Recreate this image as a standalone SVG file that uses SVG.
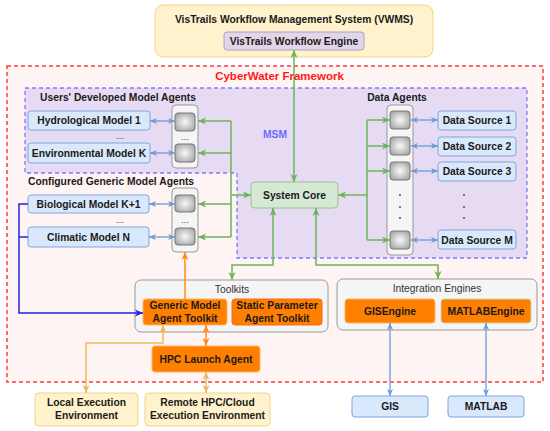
<svg xmlns="http://www.w3.org/2000/svg" width="550" height="431" viewBox="0 0 550 431">
<style>
text{font-family:"Liberation Sans",Arial,sans-serif;font-size:10.3px;font-weight:bold;fill:#1a1a1a}
.c{text-anchor:middle}
.n{font-weight:normal;fill:#333}
.blue{fill:#dae8fc;stroke:#7ea6e0;stroke-width:1}
.ora{fill:#ff8000;stroke:#ffb366;stroke-width:1}
.yel{fill:#fff2cc;stroke:#f0d48a;stroke-width:1}
.cont{fill:#f5f5f5;stroke:#999;stroke-width:1}
.sq{fill:url(#g);stroke:#777;stroke-width:1}
.gl{fill:none;stroke:#6cb45a;stroke-width:1.5}
.bl{fill:none;stroke:#6c9bd2;stroke-width:1.3}
.ol{fill:none;stroke:#ff8c1a;stroke-width:1.5}
.tl{fill:none;stroke:#eab95c;stroke-width:1.5}
.db{fill:none;stroke:#2222dd;stroke-width:1.5}
</style>
<defs>
<radialGradient id="g" cx="0.5" cy="0.5" r="0.6">
<stop offset="0" stop-color="#fafafa"/>
<stop offset="1" stop-color="#a6a6a6"/>
</radialGradient>
<marker id="ag" viewBox="0 0 8 8" refX="8" refY="4" markerWidth="8" markerHeight="8" markerUnits="userSpaceOnUse" orient="auto-start-reverse"><path d="M0,0.5 L8,4 L0,7.5 L2.2,4 z" fill="#6cb45a"/></marker>
<marker id="ab" viewBox="0 0 8 8" refX="8" refY="4" markerWidth="7" markerHeight="7" markerUnits="userSpaceOnUse" orient="auto-start-reverse"><path d="M0,0.5 L8,4 L0,7.5 L2.2,4 z" fill="#6c9bd2"/></marker>
<marker id="ao" viewBox="0 0 8 8" refX="8" refY="4" markerWidth="8" markerHeight="8" markerUnits="userSpaceOnUse" orient="auto-start-reverse"><path d="M0,0.5 L8,4 L0,7.5 L2.2,4 z" fill="#ff8c1a"/></marker>
<marker id="at" viewBox="0 0 8 8" refX="8" refY="4" markerWidth="8" markerHeight="8" markerUnits="userSpaceOnUse" orient="auto-start-reverse"><path d="M0,0.5 L8,4 L0,7.5 L2.2,4 z" fill="#eab95c"/></marker>
<marker id="ad" viewBox="0 0 8 8" refX="8" refY="4" markerWidth="8" markerHeight="8" markerUnits="userSpaceOnUse" orient="auto-start-reverse"><path d="M0,0.5 L8,4 L0,7.5 L2.2,4 z" fill="#2222dd"/></marker>
</defs>
<rect width="550" height="431" fill="#ffffff"/>

<g id="vwms">
<rect x="155" y="5" width="278" height="52" rx="8" class="yel"/>
<text x="294" y="23" class="c">VisTrails Workflow Management System (VWMS)</text>
</g>
<g id="cyberwater">
<rect x="7" y="66" width="536" height="316" fill="#fff4f4" stroke="#ff3b3b" stroke-width="1.5" stroke-dasharray="4 3"/>
</g>
<g id="msm">
<path d="M25,88 H527 V258 H237 V173 H25 Z" fill="#e7dbf4" stroke="#7b7bff" stroke-width="1.3" stroke-dasharray="4 3"/>
<text x="263" y="138" style="fill:#6a6aff">MSM</text>
</g>
<g id="vwe">
<rect x="224" y="32" width="140" height="18" rx="3" fill="#e1d5e7" stroke="#b49cc8"/>
<text x="294" y="45" class="c">VisTrails Workflow Engine</text>
</g>

<g id="users-developed">
<text x="40" y="101">Users' Developed Model Agents</text>
</g>
<g id="hydrological">
<rect x="28" y="111" width="122" height="19" rx="3" class="blue"/>
<text x="89" y="124" class="c">Hydrological Model 1</text>
</g>
<text x="120" y="139" class="c n" style="font-size:9px">...</text>
<g id="environmental">
<rect x="28" y="143" width="122" height="20" rx="3" class="blue"/>
<text x="89" y="157" class="c">Environmental Model K</text>
</g>
<g id="agents-users">
<rect x="172" y="105" width="26" height="63" rx="4" class="cont"/>
<rect x="175" y="113" width="20" height="18" rx="3" class="sq"/>
<rect x="175" y="144" width="20" height="18" rx="3" class="sq"/>
<text x="185" y="140" class="c n" style="font-size:9px">...</text>
</g>
<g id="configured-generic">
<text x="28" y="185">Configured Generic Model Agents</text>
</g>
<g id="biological">
<rect x="28" y="195" width="121" height="18" rx="3" class="blue"/>
<text x="88.5" y="207.5" class="c">Biological Model K+1</text>
</g>
<text x="120" y="223" class="c n" style="font-size:9px">...</text>
<g id="climatic">
<rect x="28" y="227" width="121" height="20" rx="3" class="blue"/>
<text x="88.5" y="240.5" class="c">Climatic Model N</text>
</g>
<g id="agents-configured">
<rect x="172" y="188" width="26" height="64" rx="4" class="cont"/>
<rect x="175" y="195" width="20" height="17" rx="3" class="sq"/>
<rect x="175" y="228" width="20" height="17" rx="3" class="sq"/>
<text x="185" y="223" class="c n" style="font-size:9px">...</text>
</g>
<g id="system-core">
<rect x="251" y="182" width="87" height="26" rx="4" fill="#d5e8d4" stroke="#97c487"/>
<text x="294.5" y="199" class="c">System Core</text>
</g>
<g id="data-agents">
<text x="397" y="101" class="c">Data Agents</text>
<rect x="387" y="105" width="26" height="150" rx="4" class="cont"/>
<rect x="390" y="111" width="20" height="18" rx="3" class="sq"/>
<rect x="390" y="137" width="20" height="18" rx="3" class="sq"/>
<rect x="390" y="162" width="20" height="18" rx="3" class="sq"/>
<rect x="390" y="231" width="20" height="18" rx="3" class="sq"/>
<circle cx="400" cy="195" r="0.9" fill="#444"/>
<circle cx="400" cy="207" r="0.9" fill="#444"/>
<circle cx="400" cy="218" r="0.9" fill="#444"/>
</g>
<g id="data-source-1">
<rect x="438" y="111" width="78" height="19" rx="3" class="blue"/>
<text x="477" y="124" class="c">Data Source 1</text>
</g>
<g id="data-source-2">
<rect x="438" y="137" width="78" height="19" rx="3" class="blue"/>
<text x="477" y="150" class="c">Data Source 2</text>
</g>
<g id="data-source-3">
<rect x="438" y="162" width="78" height="19" rx="3" class="blue"/>
<text x="477" y="175" class="c">Data Source 3</text>
</g>
<circle cx="464" cy="195" r="0.9" fill="#444"/>
<circle cx="464" cy="207" r="0.9" fill="#444"/>
<circle cx="464" cy="218" r="0.9" fill="#444"/>
<g id="data-source-m">
<rect x="438" y="230" width="78" height="19" rx="3" class="blue"/>
<text x="477" y="243.5" class="c">Data Source M</text>
</g>
<g id="toolkits">
<rect x="135" y="280" width="193" height="52" rx="6" class="cont"/>
<text x="232" y="293" class="c n">Toolkits</text>
</g>
<g id="generic-toolkit">
<rect x="143" y="299" width="84" height="26" rx="3" class="ora"/>
<text x="185" y="309" class="c">Generic Model</text>
<text x="185" y="322" class="c">Agent Toolkit</text>
</g>
<g id="static-toolkit">
<rect x="232" y="299" width="90" height="26" rx="3" fill="#ff8000" stroke="#f06a20"/>
<text x="277" y="309" class="c">Static Parameter</text>
<text x="277" y="322" class="c">Agent Toolkit</text>
</g>
<g id="integration-engines">
<rect x="337" y="279" width="200" height="51" rx="6" class="cont"/>
<text x="437" y="292" class="c n">Integration Engines</text>
</g>
<g id="gisengine">
<rect x="345" y="299" width="90" height="24" rx="3" class="ora"/>
<text x="390" y="315" class="c">GISEngine</text>
</g>
<g id="matlabengine">
<rect x="441" y="299" width="90" height="24" rx="3" fill="#ff8000" stroke="#c9d6a3"/>
<text x="486" y="315" class="c">MATLABEngine</text>
</g>
<g id="hpc">
<rect x="152" y="346" width="108" height="26" rx="3" class="ora"/>
<text x="206" y="363" class="c">HPC Launch Agent</text>
</g>
<g id="local-env">
<rect x="35" y="393" width="103" height="33" rx="4" class="yel"/>
<text x="86.5" y="406" class="c">Local Execution</text>
<text x="86.5" y="419" class="c">Environment</text>
</g>
<g id="remote-env">
<rect x="145" y="393" width="125" height="33" rx="4" class="yel"/>
<text x="207.5" y="406" class="c">Remote HPC/Cloud</text>
<text x="207.5" y="419" class="c">Execution Environment</text>
</g>
<g id="gis">
<rect x="352" y="396" width="76" height="21" rx="3" class="blue"/>
<text x="390" y="410" class="c">GIS</text>
</g>
<g id="matlab">
<rect x="448" y="396" width="76" height="21" rx="3" class="blue"/>
<text x="486" y="410" class="c">MATLAB</text>
</g>

<g id="connectors">
<line x1="294" y1="50" x2="294" y2="182" class="gl" marker-start="url(#ag)" marker-end="url(#ag)"/>
<path d="M231,121 V237" class="gl"/>
<line x1="231" y1="121" x2="198" y2="121" class="gl" marker-end="url(#ag)"/>
<line x1="231" y1="153" x2="198" y2="153" class="gl" marker-end="url(#ag)"/>
<line x1="231" y1="204" x2="198" y2="204" class="gl" marker-end="url(#ag)"/>
<line x1="231" y1="237" x2="198" y2="237" class="gl" marker-end="url(#ag)"/>
<line x1="231" y1="195" x2="251" y2="195" class="gl" marker-end="url(#ag)"/>
<path d="M367,120 V240" class="gl"/>
<line x1="367" y1="195" x2="338" y2="195" class="gl" marker-end="url(#ag)"/>
<line x1="367" y1="120" x2="390" y2="120" class="gl" marker-end="url(#ag)"/>
<line x1="367" y1="146" x2="390" y2="146" class="gl" marker-end="url(#ag)"/>
<line x1="367" y1="171" x2="390" y2="171" class="gl" marker-end="url(#ag)"/>
<line x1="367" y1="240" x2="390" y2="240" class="gl" marker-end="url(#ag)"/>
<path d="M273,208 V265 H232 V280" class="gl" marker-start="url(#ag)" marker-end="url(#ag)"/>
<path d="M316,208 V265 H438 V279" class="gl" marker-start="url(#ag)" marker-end="url(#ag)"/>
<line x1="150" y1="121" x2="175" y2="121" class="bl" marker-start="url(#ab)" marker-end="url(#ab)"/>
<line x1="150" y1="153" x2="175" y2="153" class="bl" marker-start="url(#ab)" marker-end="url(#ab)"/>
<line x1="149" y1="204" x2="175" y2="204" class="bl" marker-start="url(#ab)" marker-end="url(#ab)"/>
<line x1="149" y1="237" x2="175" y2="237" class="bl" marker-start="url(#ab)" marker-end="url(#ab)"/>
<line x1="411" y1="120" x2="438" y2="120" class="bl" marker-start="url(#ab)" marker-end="url(#ab)"/>
<line x1="411" y1="146" x2="438" y2="146" class="bl" marker-start="url(#ab)" marker-end="url(#ab)"/>
<line x1="411" y1="171" x2="438" y2="171" class="bl" marker-start="url(#ab)" marker-end="url(#ab)"/>
<line x1="411" y1="240" x2="438" y2="240" class="bl" marker-start="url(#ab)" marker-end="url(#ab)"/>
<line x1="390" y1="323" x2="390" y2="396" class="bl" marker-start="url(#ab)" marker-end="url(#ab)"/>
<line x1="486" y1="323" x2="486" y2="396" class="bl" marker-start="url(#ab)" marker-end="url(#ab)"/>
<line x1="185" y1="299" x2="185" y2="252" class="ol" marker-end="url(#ao)"/>
<line x1="206" y1="325" x2="206" y2="346" class="ol" marker-start="url(#ao)" marker-end="url(#ao)"/>
<line x1="206" y1="372" x2="206" y2="393" class="tl" marker-start="url(#at)" marker-end="url(#at)"/>
<path d="M163,325 V343 H86 V393" class="tl" marker-start="url(#at)" marker-end="url(#at)"/>
<path d="M28,237 H19" class="db"/>
<path d="M28,204 H19 V313 H143" class="db" marker-end="url(#ad)"/>
</g>

<text x="279.5" y="80" class="c" style="font-size:11.5px;fill:#ff1a1a">CyberWater Framework</text>
</svg>
